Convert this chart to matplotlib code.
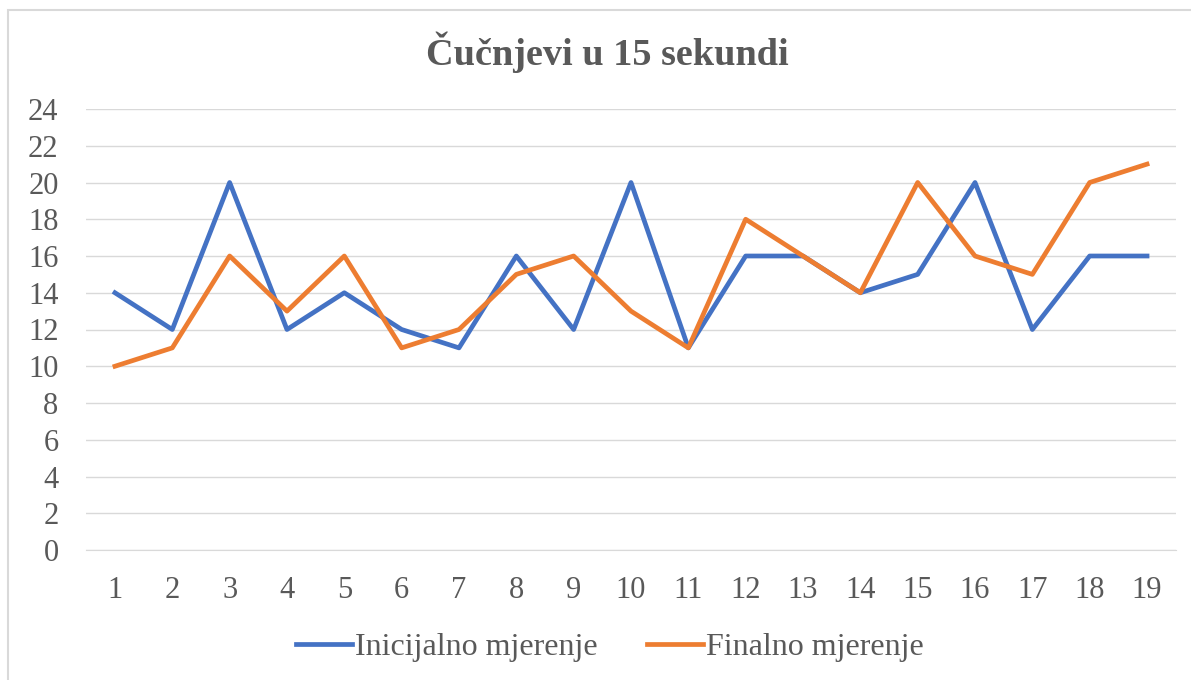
import matplotlib
matplotlib.use("Agg")
import matplotlib.pyplot as plt
from matplotlib.patches import Rectangle

categories = [str(i) for i in range(1, 20)]
inicijalno = [14, 12, 20, 12, 14, 12, 11, 16, 12, 20, 11, 16, 16, 14, 15, 20, 12, 16, 16]
finalno = [10, 11, 16, 13, 16, 11, 12, 15, 16, 13, 11, 18, 16, 14, 20, 16, 15, 20, 21]
yticks = list(range(0, 25, 2))

plt.rcParams['font.family'] = ['Liberation Serif', 'DejaVu Serif']
txt = '#595959'

W, H = 1191, 680
fig = plt.figure(figsize=(W / 100, H / 100), dpi=100)
# chart border (only top and left edges visible in the reference)
fig.patches.append(Rectangle((8 / W, -0.05), 1.1, 1.05 - 10 / H, transform=fig.transFigure,
                             fill=False, edgecolor='#D9D9D9', linewidth=1.5))
ax = fig.add_axes([86.3 / W, 130 / H, 1089.4 / W, 441 / H])
x = list(range(len(categories)))
ax.plot(x, inicijalno, color='#4472C4', linewidth=3.4, label='Inicijalno mjerenje', solid_joinstyle='round')
ax.plot(x, finalno, color='#ED7D31', linewidth=3.4, label='Finalno mjerenje', solid_joinstyle='round')
ax.set_xlim(-0.5, len(categories) - 0.5)
ax.set_ylim(0, 24)
ax.set_yticks(yticks)
ax.set_xticks(x)
ax.set_xticklabels(categories)
ax.grid(axis='y', color='#D9D9D9', linewidth=1)
ax.set_axisbelow(True)
for s in ['top', 'right', 'left']:
    ax.spines[s].set_visible(False)
ax.spines['bottom'].set_color('#D9D9D9')
ax.tick_params(axis='both', length=0, labelsize=22, colors=txt)
ax.tick_params(axis='x', pad=19)
ax.tick_params(axis='y', pad=20)
fig.text(607 / W, 1 - 52 / H, 'Čučnjevi u 15 sekundi', ha='center', va='center',
         fontsize=27.5, fontweight='bold', color=txt)
fig.legend(loc='center', bbox_to_anchor=(610 / W, 1 - 647 / H), ncol=2, frameon=False,
           fontsize=23, handlelength=1.75, columnspacing=1.55, handletextpad=0.1,
           labelcolor=txt)
fig.savefig('out.png', dpi=100)
